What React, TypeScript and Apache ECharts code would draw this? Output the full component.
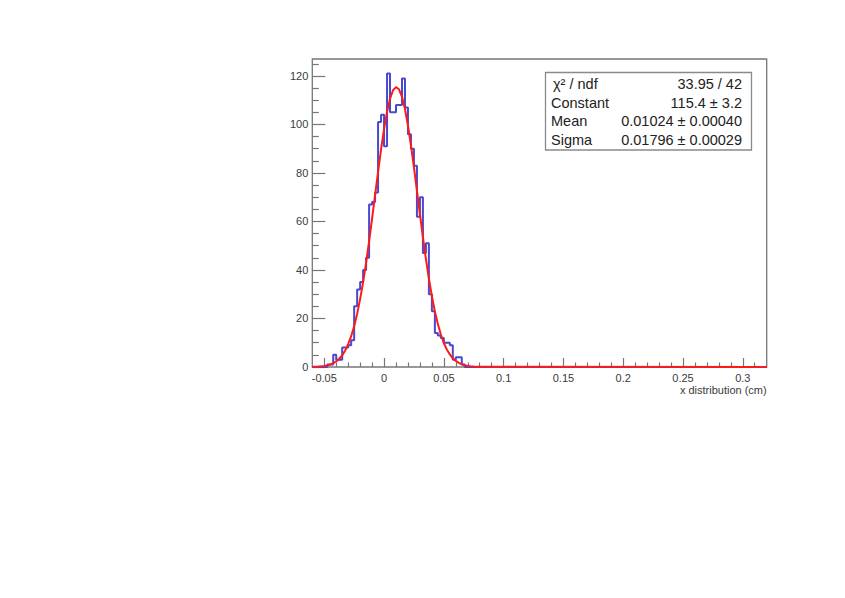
import React, { useEffect, useRef } from "react";
import * as echarts from "echarts";

// ---- data ----
const xMin = -0.06;
const xMax = 0.32;
const binWidth = 0.0025;
const nBins = 152;
const firstBin = 5; // index of the first bin listed in binCounts (others are 0)
const binCounts = [
  1, 1, 5, 3, 3, 8, 8, 9, 11, 25,
  32, 35, 40, 45, 67, 68, 72, 101, 104, 91,
  121, 105, 105, 108, 108, 119, 107, 96, 90, 83,
  62, 70, 47, 51, 30, 23, 14, 13, 12, 10,
  10, 9, 3, 4, 4, 1,
];

// fitted gaussian, every 0.0025 from -0.06 to 0.08
const fitStart = -0.06;
const fitStep = 0.0025;
const fitValues = [
  0.06, 0.09, 0.16, 0.26, 0.42, 0.66, 1.0, 1.55, 2.3, 3.4,
  4.8, 6.8, 9.4, 12.7, 16.8, 21.9, 28.0, 35.0, 43.0, 51.8,
  61.2, 70.9, 80.5, 89.7, 98.1, 105.2, 110.6, 114.1, 115.4, 114.5,
  111.4, 106.4, 99.6, 91.4, 82.3, 72.7, 63.0, 53.5, 44.6, 36.5,
  29.2, 23.0, 17.7, 13.4, 9.9, 7.2, 5.2, 3.6, 2.5, 1.7,
  1.1, 0.7, 0.45, 0.28, 0.17, 0.1, 0.06,
];
const fitTail: [number, number] = [0.32, 0.0];

const yMin = 0;
const yMax = 127;
const yMajor = [0, 20, 40, 60, 80, 100, 120];
const yMinor = [5, 10, 15, 25, 30, 35, 45, 50, 55, 65, 70, 75, 85, 90, 95, 105, 110, 115, 125];
const xMajor = [-0.05, 0, 0.05, 0.1, 0.15, 0.2, 0.25, 0.3];
const xMinor = [
  -0.04, -0.03, -0.02, -0.01, 0.01, 0.02, 0.03, 0.04, 0.06, 0.07, 0.08, 0.09,
  0.11, 0.12, 0.13, 0.14, 0.16, 0.17, 0.18, 0.19, 0.21, 0.22, 0.23, 0.24,
  0.26, 0.27, 0.28, 0.29, 0.31,
];

const xTitle = "x distribution (cm)";
const statLabels = ["χ² / ndf", "Constant", "Mean", "Sigma"];
const statValues = ["33.95 / 42", "115.4 ± 3.2", "0.01024 ± 0.00040", "0.01796 ± 0.00029"];

// ---- style ----
const FONT = '"Liberation Sans", Arial, Helvetica, sans-serif';
const FRAME = "#777777";
const TEXT = "#3a3a3a";

export default function App() {
  const ref = useRef<HTMLDivElement>(null);

  useEffect(() => {
    if (!ref.current) return;
    const chart = echarts.init(ref.current, undefined, { renderer: "svg" });

    const histData: [number, number][] = [];
    let last = 0;
    for (let k = 0; k < nBins; k++) {
      const i = k - firstBin;
      const c = i >= 0 && i < binCounts.length ? binCounts[i] : 0;
      histData.push([xMin + k * binWidth, c]);
      last = c;
    }
    histData.push([xMax, last]);

    const fitData: [number, number][] = fitValues.map((v, i) => [fitStart + i * fitStep, v]);
    fitData.push(fitTail);

    const rowY = [83.5, 102.5, 121, 140];
    const statsGraphics: any[] = [
      {
        type: "rect",
        shape: { x: 545.5, y: 72.5, width: 206, height: 77.5 },
        style: { fill: "#ffffff", stroke: "#8a8a8a", lineWidth: 1.3 },
        z: 10,
      },
    ];
    statLabels.forEach((t, i) => {
      statsGraphics.push({
        type: "text",
        x: i === 0 ? 553 : 551,
        y: rowY[i],
        z: 11,
        style: {
          text: t,
          fill: "#222",
          fontSize: 14.5,
          fontFamily: FONT,
          align: "left",
          verticalAlign: "middle",
        },
      });
      statsGraphics.push({
        type: "text",
        x: 742,
        y: rowY[i],
        z: 11,
        style: {
          text: statValues[i],
          fill: "#222",
          fontSize: 14.5,
          fontFamily: FONT,
          align: "right",
          verticalAlign: "middle",
        },
      });
    });

    const axisLabelStyle = { fontSize: 11, color: TEXT, fontFamily: FONT };
    const hiddenLine = { show: false, onZero: false };

    chart.setOption({
      animation: false,
      backgroundColor: "#ffffff",
      grid: {
        left: 312.3,
        right: 78.3,
        top: 59,
        bottom: 231,
        show: true,
        borderColor: FRAME,
        borderWidth: 1.3,
        backgroundColor: "transparent",
      },
      xAxis: [
        {
          type: "value",
          position: "bottom",
          min: xMin,
          max: xMax,
          axisLine: hiddenLine,
          splitLine: { show: false },
          axisTick: { show: true, inside: true, length: 9, customValues: xMajor, lineStyle: { color: FRAME, width: 1.2 } },
          axisLabel: { show: true, customValues: xMajor, margin: 5, ...axisLabelStyle },
          name: xTitle,
          nameLocation: "end",
          nameGap: 0,
          nameTextStyle: {
            align: "right",
            verticalAlign: "top",
            padding: [17, 0, 0, 0],
            fontSize: 11,
            color: TEXT,
            fontFamily: FONT,
          },
        },
        {
          type: "value",
          position: "bottom",
          min: xMin,
          max: xMax,
          axisLine: hiddenLine,
          splitLine: { show: false },
          axisTick: { show: true, inside: true, length: 4.5, customValues: xMinor, lineStyle: { color: FRAME, width: 1.2 } },
          axisLabel: { show: false },
        },
      ],
      yAxis: [
        {
          type: "value",
          position: "left",
          min: yMin,
          max: yMax,
          axisLine: hiddenLine,
          splitLine: { show: false },
          axisTick: { show: true, inside: true, length: 13, customValues: yMajor, lineStyle: { color: FRAME, width: 1.2 } },
          axisLabel: { show: true, customValues: yMajor, margin: 4, ...axisLabelStyle },
        },
        {
          type: "value",
          position: "left",
          min: yMin,
          max: yMax,
          axisLine: hiddenLine,
          splitLine: { show: false },
          axisTick: { show: true, inside: true, length: 6.5, customValues: yMinor, lineStyle: { color: FRAME, width: 1.2 } },
          axisLabel: { show: false },
        },
      ],
      series: [
        {
          type: "line",
          name: "histogram",
          xAxisIndex: 0,
          yAxisIndex: 0,
          data: histData,
          step: "end",
          symbol: "none",
          lineStyle: { color: "#4848d0", width: 2 },
          z: 2,
        },
        {
          type: "line",
          name: "fit",
          xAxisIndex: 0,
          yAxisIndex: 0,
          data: fitData,
          symbol: "none",
          lineStyle: { color: "#ff1a1a", width: 2 },
          z: 3,
        },
      ],
      graphic: statsGraphics,
    });

    return () => chart.dispose();
  }, []);

  return (
    <div
      ref={ref}
      style={{ position: "fixed", left: 0, top: 0, width: 845, height: 598, background: "#ffffff" }}
    />
  );
}
